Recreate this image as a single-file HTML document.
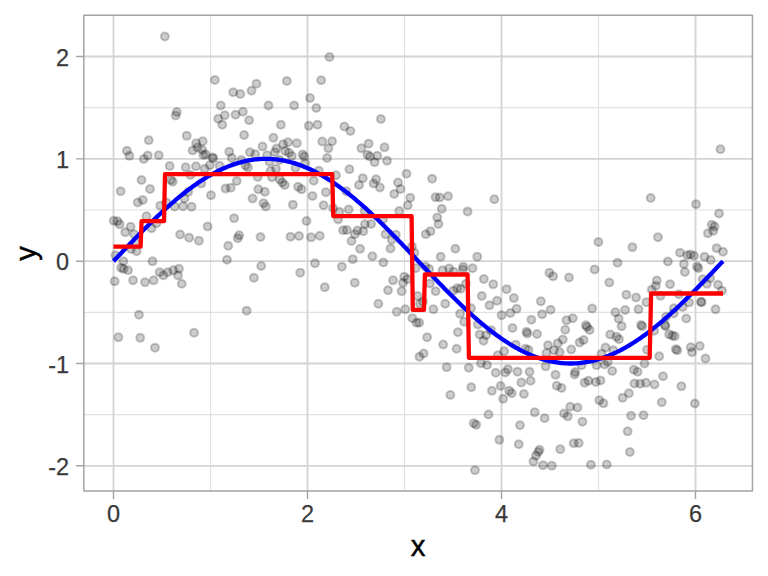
<!DOCTYPE html><html><head><meta charset="utf-8"><style>html,body{margin:0;padding:0;background:#fff;width:768px;height:576px;overflow:hidden}svg{display:block}text{font-family:"Liberation Sans",Arial,sans-serif}</style></head><body>
<svg width="768" height="576" viewBox="0 0 768 576">
<rect width="768" height="576" fill="#fff"/>
<path d="M210.50 15.3V491.1M404.50 15.3V491.1M598.50 15.3V491.1M83.85 414.67H752.45M83.85 312.34H752.45M83.85 210.01H752.45M83.85 107.68H752.45" stroke="#E1E1E1" stroke-width="1.15" fill="none"/>
<path d="M113.50 15.3V491.1M307.50 15.3V491.1M501.50 15.3V491.1M695.50 15.3V491.1M83.85 465.83H752.45M83.85 363.50H752.45M83.85 261.17H752.45M83.85 158.84H752.45M83.85 56.51H752.45" stroke="#D4D4D4" stroke-width="1.85" fill="none"/>
<g fill="rgba(0,0,0,0.2)" stroke="rgba(0,0,0,0.2)" stroke-width="2.0"><circle cx="164.83" cy="36.58" r="4.0"/><circle cx="329.50" cy="56.92" r="4.0"/><circle cx="214.83" cy="79.92" r="4.0"/><circle cx="233.17" cy="92.25" r="4.0"/><circle cx="240.33" cy="93.92" r="4.0"/><circle cx="251.50" cy="90.75" r="4.0"/><circle cx="256.50" cy="83.75" r="4.0"/><circle cx="286.83" cy="81.08" r="4.0"/><circle cx="321.17" cy="80.25" r="4.0"/><circle cx="310.00" cy="98.08" r="4.0"/><circle cx="176.81" cy="111.94" r="4.0"/><circle cx="175.69" cy="115.50" r="4.0"/><circle cx="148.75" cy="140.25" r="4.0"/><circle cx="126.88" cy="150.75" r="4.0"/><circle cx="129.38" cy="155.87" r="4.0"/><circle cx="147.75" cy="155.50" r="4.0"/><circle cx="143.75" cy="159.00" r="4.0"/><circle cx="158.75" cy="155.25" r="4.0"/><circle cx="169.69" cy="166.06" r="4.0"/><circle cx="220.75" cy="105.50" r="4.0"/><circle cx="224.75" cy="115.25" r="4.0"/><circle cx="218.25" cy="118.75" r="4.0"/><circle cx="222.25" cy="124.75" r="4.0"/><circle cx="235.50" cy="114.75" r="4.0"/><circle cx="242.88" cy="111.75" r="4.0"/><circle cx="249.12" cy="120.25" r="4.0"/><circle cx="244.12" cy="135.00" r="4.0"/><circle cx="186.75" cy="135.87" r="4.0"/><circle cx="229.25" cy="151.66" r="4.0"/><circle cx="231.77" cy="157.89" r="4.0"/><circle cx="249.97" cy="152.25" r="4.0"/><circle cx="255.28" cy="154.28" r="4.0"/><circle cx="262.50" cy="146.50" r="4.0"/><circle cx="185.69" cy="167.19" r="4.0"/><circle cx="195.91" cy="166.25" r="4.0"/><circle cx="202.75" cy="141.25" r="4.0"/><circle cx="196.19" cy="143.13" r="4.0"/><circle cx="197.44" cy="147.50" r="4.0"/><circle cx="192.62" cy="150.50" r="4.0"/><circle cx="202.12" cy="149.69" r="4.0"/><circle cx="203.38" cy="155.00" r="4.0"/><circle cx="205.56" cy="154.37" r="4.0"/><circle cx="212.40" cy="157.45" r="4.0"/><circle cx="213.30" cy="158.15" r="4.0"/><circle cx="209.84" cy="165.31" r="4.0"/><circle cx="204.69" cy="168.75" r="4.0"/><circle cx="219.53" cy="165.63" r="4.0"/><circle cx="268.50" cy="105.50" r="4.0"/><circle cx="294.12" cy="105.50" r="4.0"/><circle cx="316.25" cy="108.00" r="4.0"/><circle cx="280.88" cy="124.75" r="4.0"/><circle cx="308.75" cy="125.87" r="4.0"/><circle cx="317.50" cy="124.63" r="4.0"/><circle cx="344.38" cy="126.50" r="4.0"/><circle cx="350.38" cy="131.06" r="4.0"/><circle cx="322.25" cy="141.50" r="4.0"/><circle cx="332.12" cy="141.25" r="4.0"/><circle cx="328.38" cy="148.37" r="4.0"/><circle cx="327.12" cy="158.00" r="4.0"/><circle cx="349.41" cy="169.25" r="4.0"/><circle cx="273.38" cy="137.81" r="4.0"/><circle cx="288.06" cy="142.19" r="4.0"/><circle cx="283.06" cy="144.37" r="4.0"/><circle cx="296.81" cy="143.13" r="4.0"/><circle cx="276.50" cy="148.44" r="4.0"/><circle cx="274.88" cy="152.31" r="4.0"/><circle cx="285.25" cy="150.94" r="4.0"/><circle cx="289.00" cy="152.81" r="4.0"/><circle cx="291.81" cy="155.94" r="4.0"/><circle cx="302.60" cy="154.55" r="4.0"/><circle cx="304.30" cy="156.55" r="4.0"/><circle cx="267.06" cy="155.13" r="4.0"/><circle cx="269.56" cy="161.69" r="4.0"/><circle cx="279.62" cy="160.00" r="4.0"/><circle cx="305.25" cy="163.13" r="4.0"/><circle cx="295.44" cy="167.81" r="4.0"/><circle cx="276.03" cy="168.66" r="4.0"/><circle cx="270.56" cy="171.00" r="4.0"/><circle cx="380.88" cy="119.00" r="4.0"/><circle cx="368.62" cy="143.63" r="4.0"/><circle cx="361.38" cy="148.37" r="4.0"/><circle cx="384.50" cy="147.37" r="4.0"/><circle cx="367.38" cy="154.63" r="4.0"/><circle cx="369.88" cy="156.50" r="4.0"/><circle cx="377.38" cy="155.87" r="4.0"/><circle cx="374.62" cy="162.13" r="4.0"/><circle cx="387.00" cy="160.63" r="4.0"/><circle cx="494.31" cy="199.31" r="4.0"/><circle cx="467.56" cy="211.50" r="4.0"/><circle cx="448.06" cy="196.25" r="4.0"/><circle cx="720.44" cy="149.31" r="4.0"/><circle cx="650.69" cy="198.06" r="4.0"/><circle cx="696.03" cy="204.31" r="4.0"/><circle cx="719.03" cy="213.41" r="4.0"/><circle cx="141.50" cy="180.00" r="4.0"/><circle cx="150.00" cy="189.00" r="4.0"/><circle cx="120.62" cy="191.25" r="4.0"/><circle cx="142.75" cy="200.00" r="4.0"/><circle cx="137.75" cy="202.50" r="4.0"/><circle cx="170.88" cy="180.00" r="4.0"/><circle cx="172.69" cy="181.75" r="4.0"/><circle cx="160.25" cy="205.63" r="4.0"/><circle cx="166.25" cy="202.50" r="4.0"/><circle cx="174.69" cy="206.50" r="4.0"/><circle cx="146.50" cy="216.25" r="4.0"/><circle cx="113.75" cy="220.87" r="4.0"/><circle cx="117.50" cy="221.25" r="4.0"/><circle cx="119.62" cy="224.37" r="4.0"/><circle cx="130.62" cy="226.87" r="4.0"/><circle cx="125.25" cy="232.19" r="4.0"/><circle cx="134.00" cy="234.13" r="4.0"/><circle cx="151.50" cy="228.37" r="4.0"/><circle cx="156.50" cy="223.13" r="4.0"/><circle cx="190.50" cy="175.00" r="4.0"/><circle cx="201.19" cy="183.44" r="4.0"/><circle cx="236.77" cy="180.92" r="4.0"/><circle cx="225.56" cy="188.59" r="4.0"/><circle cx="230.72" cy="187.78" r="4.0"/><circle cx="257.62" cy="177.00" r="4.0"/><circle cx="258.25" cy="189.37" r="4.0"/><circle cx="264.88" cy="191.87" r="4.0"/><circle cx="252.62" cy="198.50" r="4.0"/><circle cx="263.50" cy="203.13" r="4.0"/><circle cx="265.75" cy="206.56" r="4.0"/><circle cx="211.00" cy="195.25" r="4.0"/><circle cx="188.25" cy="191.87" r="4.0"/><circle cx="184.50" cy="198.50" r="4.0"/><circle cx="183.00" cy="206.25" r="4.0"/><circle cx="191.62" cy="206.63" r="4.0"/><circle cx="234.12" cy="218.13" r="4.0"/><circle cx="207.62" cy="226.50" r="4.0"/><circle cx="180.12" cy="234.47" r="4.0"/><circle cx="239.12" cy="235.37" r="4.0"/><circle cx="237.75" cy="238.13" r="4.0"/><circle cx="260.52" cy="237.06" r="4.0"/><circle cx="241.38" cy="159.94" r="4.0"/><circle cx="245.44" cy="165.56" r="4.0"/><circle cx="247.94" cy="167.44" r="4.0"/><circle cx="271.94" cy="177.31" r="4.0"/><circle cx="318.75" cy="170.63" r="4.0"/><circle cx="279.75" cy="179.35" r="4.0"/><circle cx="284.75" cy="185.00" r="4.0"/><circle cx="298.12" cy="186.87" r="4.0"/><circle cx="301.50" cy="189.37" r="4.0"/><circle cx="313.75" cy="180.63" r="4.0"/><circle cx="336.00" cy="175.25" r="4.0"/><circle cx="325.88" cy="192.13" r="4.0"/><circle cx="312.50" cy="196.00" r="4.0"/><circle cx="292.88" cy="204.63" r="4.0"/><circle cx="323.56" cy="205.28" r="4.0"/><circle cx="306.50" cy="221.00" r="4.0"/><circle cx="290.50" cy="236.63" r="4.0"/><circle cx="299.06" cy="236.00" r="4.0"/><circle cx="311.12" cy="237.37" r="4.0"/><circle cx="319.75" cy="235.81" r="4.0"/><circle cx="346.25" cy="191.25" r="4.0"/><circle cx="333.12" cy="208.13" r="4.0"/><circle cx="339.38" cy="211.87" r="4.0"/><circle cx="338.12" cy="219.37" r="4.0"/><circle cx="348.69" cy="209.53" r="4.0"/><circle cx="364.62" cy="210.63" r="4.0"/><circle cx="364.91" cy="224.25" r="4.0"/><circle cx="343.12" cy="230.31" r="4.0"/><circle cx="346.88" cy="230.00" r="4.0"/><circle cx="357.44" cy="230.50" r="4.0"/><circle cx="363.25" cy="231.28" r="4.0"/><circle cx="362.75" cy="178.13" r="4.0"/><circle cx="359.00" cy="185.00" r="4.0"/><circle cx="376.12" cy="179.37" r="4.0"/><circle cx="373.62" cy="183.50" r="4.0"/><circle cx="379.88" cy="187.50" r="4.0"/><circle cx="398.00" cy="182.50" r="4.0"/><circle cx="400.50" cy="189.00" r="4.0"/><circle cx="394.25" cy="194.00" r="4.0"/><circle cx="406.50" cy="173.75" r="4.0"/><circle cx="432.12" cy="178.75" r="4.0"/><circle cx="410.25" cy="197.75" r="4.0"/><circle cx="407.75" cy="205.25" r="4.0"/><circle cx="435.50" cy="197.25" r="4.0"/><circle cx="439.69" cy="197.50" r="4.0"/><circle cx="441.75" cy="208.87" r="4.0"/><circle cx="437.25" cy="217.50" r="4.0"/><circle cx="438.41" cy="224.06" r="4.0"/><circle cx="399.25" cy="211.00" r="4.0"/><circle cx="383.00" cy="219.37" r="4.0"/><circle cx="371.12" cy="223.94" r="4.0"/><circle cx="385.50" cy="234.25" r="4.0"/><circle cx="395.81" cy="234.87" r="4.0"/><circle cx="425.81" cy="234.25" r="4.0"/><circle cx="430.50" cy="231.13" r="4.0"/><circle cx="136.62" cy="251.25" r="4.0"/><circle cx="115.38" cy="255.31" r="4.0"/><circle cx="152.44" cy="261.37" r="4.0"/><circle cx="114.62" cy="281.37" r="4.0"/><circle cx="133.00" cy="280.37" r="4.0"/><circle cx="145.00" cy="282.25" r="4.0"/><circle cx="153.62" cy="280.37" r="4.0"/><circle cx="159.62" cy="272.25" r="4.0"/><circle cx="163.38" cy="275.37" r="4.0"/><circle cx="167.75" cy="272.25" r="4.0"/><circle cx="173.31" cy="270.37" r="4.0"/><circle cx="178.94" cy="268.69" r="4.0"/><circle cx="178.00" cy="275.37" r="4.0"/><circle cx="123.31" cy="261.19" r="4.0"/><circle cx="121.12" cy="267.75" r="4.0"/><circle cx="123.62" cy="269.00" r="4.0"/><circle cx="128.00" cy="270.25" r="4.0"/><circle cx="131.12" cy="249.00" r="4.0"/><circle cx="135.50" cy="242.13" r="4.0"/><circle cx="189.12" cy="237.63" r="4.0"/><circle cx="198.88" cy="240.63" r="4.0"/><circle cx="228.25" cy="245.75" r="4.0"/><circle cx="227.00" cy="259.75" r="4.0"/><circle cx="261.19" cy="266.00" r="4.0"/><circle cx="253.88" cy="277.87" r="4.0"/><circle cx="181.75" cy="283.75" r="4.0"/><circle cx="351.50" cy="241.00" r="4.0"/><circle cx="352.75" cy="259.13" r="4.0"/><circle cx="300.25" cy="272.63" r="4.0"/><circle cx="315.00" cy="263.25" r="4.0"/><circle cx="341.88" cy="266.63" r="4.0"/><circle cx="324.75" cy="287.25" r="4.0"/><circle cx="354.81" cy="282.75" r="4.0"/><circle cx="354.88" cy="234.13" r="4.0"/><circle cx="391.75" cy="239.75" r="4.0"/><circle cx="390.50" cy="248.50" r="4.0"/><circle cx="360.12" cy="248.87" r="4.0"/><circle cx="372.38" cy="256.25" r="4.0"/><circle cx="383.38" cy="262.50" r="4.0"/><circle cx="440.67" cy="256.67" r="4.0"/><circle cx="415.75" cy="268.16" r="4.0"/><circle cx="442.59" cy="270.34" r="4.0"/><circle cx="393.00" cy="280.37" r="4.0"/><circle cx="404.25" cy="276.63" r="4.0"/><circle cx="403.00" cy="282.87" r="4.0"/><circle cx="407.38" cy="279.13" r="4.0"/><circle cx="388.00" cy="290.31" r="4.0"/><circle cx="401.62" cy="291.13" r="4.0"/><circle cx="429.88" cy="283.50" r="4.0"/><circle cx="435.59" cy="291.31" r="4.0"/><circle cx="411.94" cy="246.50" r="4.0"/><circle cx="414.44" cy="252.75" r="4.0"/><circle cx="425.38" cy="266.50" r="4.0"/><circle cx="429.12" cy="269.00" r="4.0"/><circle cx="455.38" cy="248.75" r="4.0"/><circle cx="477.25" cy="256.63" r="4.0"/><circle cx="449.12" cy="268.50" r="4.0"/><circle cx="453.50" cy="271.63" r="4.0"/><circle cx="463.25" cy="266.63" r="4.0"/><circle cx="462.88" cy="269.50" r="4.0"/><circle cx="472.50" cy="268.25" r="4.0"/><circle cx="483.81" cy="278.94" r="4.0"/><circle cx="493.25" cy="284.37" r="4.0"/><circle cx="506.62" cy="289.13" r="4.0"/><circle cx="466.00" cy="283.69" r="4.0"/><circle cx="460.69" cy="288.78" r="4.0"/><circle cx="457.25" cy="288.37" r="4.0"/><circle cx="453.19" cy="290.81" r="4.0"/><circle cx="445.20" cy="303.72" r="4.0"/><circle cx="481.78" cy="295.94" r="4.0"/><circle cx="598.38" cy="242.00" r="4.0"/><circle cx="617.56" cy="262.81" r="4.0"/><circle cx="549.38" cy="272.87" r="4.0"/><circle cx="553.12" cy="276.37" r="4.0"/><circle cx="569.00" cy="277.50" r="4.0"/><circle cx="594.62" cy="269.50" r="4.0"/><circle cx="609.31" cy="282.44" r="4.0"/><circle cx="658.00" cy="237.13" r="4.0"/><circle cx="632.38" cy="247.13" r="4.0"/><circle cx="667.88" cy="261.50" r="4.0"/><circle cx="680.00" cy="252.75" r="4.0"/><circle cx="687.31" cy="255.25" r="4.0"/><circle cx="690.44" cy="254.44" r="4.0"/><circle cx="694.06" cy="255.69" r="4.0"/><circle cx="683.88" cy="264.00" r="4.0"/><circle cx="684.88" cy="271.94" r="4.0"/><circle cx="697.00" cy="266.50" r="4.0"/><circle cx="698.38" cy="268.19" r="4.0"/><circle cx="704.50" cy="256.75" r="4.0"/><circle cx="711.75" cy="224.63" r="4.0"/><circle cx="714.50" cy="226.50" r="4.0"/><circle cx="713.25" cy="230.87" r="4.0"/><circle cx="707.88" cy="233.37" r="4.0"/><circle cx="716.62" cy="248.13" r="4.0"/><circle cx="723.00" cy="251.75" r="4.0"/><circle cx="710.75" cy="260.00" r="4.0"/><circle cx="139.00" cy="314.75" r="4.0"/><circle cx="118.38" cy="337.37" r="4.0"/><circle cx="140.25" cy="337.87" r="4.0"/><circle cx="155.00" cy="347.63" r="4.0"/><circle cx="246.62" cy="310.63" r="4.0"/><circle cx="194.12" cy="332.75" r="4.0"/><circle cx="378.38" cy="303.75" r="4.0"/><circle cx="396.75" cy="311.87" r="4.0"/><circle cx="405.25" cy="309.37" r="4.0"/><circle cx="417.62" cy="296.00" r="4.0"/><circle cx="419.88" cy="303.75" r="4.0"/><circle cx="423.00" cy="301.87" r="4.0"/><circle cx="433.38" cy="309.37" r="4.0"/><circle cx="412.38" cy="318.13" r="4.0"/><circle cx="416.50" cy="322.75" r="4.0"/><circle cx="419.25" cy="322.75" r="4.0"/><circle cx="427.12" cy="337.25" r="4.0"/><circle cx="443.16" cy="344.53" r="4.0"/><circle cx="423.62" cy="353.56" r="4.0"/><circle cx="419.44" cy="356.69" r="4.0"/><circle cx="497.00" cy="300.75" r="4.0"/><circle cx="489.50" cy="305.37" r="4.0"/><circle cx="513.88" cy="298.00" r="4.0"/><circle cx="516.62" cy="308.87" r="4.0"/><circle cx="510.38" cy="313.00" r="4.0"/><circle cx="501.62" cy="315.13" r="4.0"/><circle cx="531.38" cy="319.63" r="4.0"/><circle cx="512.50" cy="328.00" r="4.0"/><circle cx="471.00" cy="308.25" r="4.0"/><circle cx="460.12" cy="313.87" r="4.0"/><circle cx="464.12" cy="321.75" r="4.0"/><circle cx="477.88" cy="324.50" r="4.0"/><circle cx="491.00" cy="330.13" r="4.0"/><circle cx="479.75" cy="334.50" r="4.0"/><circle cx="486.00" cy="335.13" r="4.0"/><circle cx="483.50" cy="340.75" r="4.0"/><circle cx="457.88" cy="332.25" r="4.0"/><circle cx="456.62" cy="348.81" r="4.0"/><circle cx="504.12" cy="351.27" r="4.0"/><circle cx="497.88" cy="355.37" r="4.0"/><circle cx="537.03" cy="333.94" r="4.0"/><circle cx="515.69" cy="344.63" r="4.0"/><circle cx="525.38" cy="348.69" r="4.0"/><circle cx="528.44" cy="349.87" r="4.0"/><circle cx="540.88" cy="301.37" r="4.0"/><circle cx="550.62" cy="309.75" r="4.0"/><circle cx="542.12" cy="314.13" r="4.0"/><circle cx="592.12" cy="308.50" r="4.0"/><circle cx="615.38" cy="312.19" r="4.0"/><circle cx="618.62" cy="318.63" r="4.0"/><circle cx="566.50" cy="320.37" r="4.0"/><circle cx="572.75" cy="318.25" r="4.0"/><circle cx="565.25" cy="329.75" r="4.0"/><circle cx="585.88" cy="325.37" r="4.0"/><circle cx="587.12" cy="327.00" r="4.0"/><circle cx="589.62" cy="330.00" r="4.0"/><circle cx="562.75" cy="339.44" r="4.0"/><circle cx="557.75" cy="343.37" r="4.0"/><circle cx="548.00" cy="345.25" r="4.0"/><circle cx="583.56" cy="340.06" r="4.0"/><circle cx="579.62" cy="342.44" r="4.0"/><circle cx="571.25" cy="349.44" r="4.0"/><circle cx="610.25" cy="334.50" r="4.0"/><circle cx="616.50" cy="336.63" r="4.0"/><circle cx="619.00" cy="339.13" r="4.0"/><circle cx="605.50" cy="347.56" r="4.0"/><circle cx="656.75" cy="280.50" r="4.0"/><circle cx="655.75" cy="285.87" r="4.0"/><circle cx="651.75" cy="289.63" r="4.0"/><circle cx="670.12" cy="284.25" r="4.0"/><circle cx="702.62" cy="279.19" r="4.0"/><circle cx="706.88" cy="283.87" r="4.0"/><circle cx="626.38" cy="294.63" r="4.0"/><circle cx="636.12" cy="297.50" r="4.0"/><circle cx="646.38" cy="302.13" r="4.0"/><circle cx="660.50" cy="295.87" r="4.0"/><circle cx="678.88" cy="294.19" r="4.0"/><circle cx="689.00" cy="302.50" r="4.0"/><circle cx="682.62" cy="307.00" r="4.0"/><circle cx="673.88" cy="308.37" r="4.0"/><circle cx="701.00" cy="301.75" r="4.0"/><circle cx="701.60" cy="302.35" r="4.0"/><circle cx="625.12" cy="310.00" r="4.0"/><circle cx="638.50" cy="309.37" r="4.0"/><circle cx="621.62" cy="326.13" r="4.0"/><circle cx="686.25" cy="318.44" r="4.0"/><circle cx="641.00" cy="325.00" r="4.0"/><circle cx="642.25" cy="326.25" r="4.0"/><circle cx="654.12" cy="330.63" r="4.0"/><circle cx="665.06" cy="325.00" r="4.0"/><circle cx="665.38" cy="326.25" r="4.0"/><circle cx="666.00" cy="316.87" r="4.0"/><circle cx="673.69" cy="313.44" r="4.0"/><circle cx="669.12" cy="334.37" r="4.0"/><circle cx="672.25" cy="335.63" r="4.0"/><circle cx="674.75" cy="336.25" r="4.0"/><circle cx="710.12" cy="278.13" r="4.0"/><circle cx="718.00" cy="284.75" r="4.0"/><circle cx="722.00" cy="290.63" r="4.0"/><circle cx="715.50" cy="309.37" r="4.0"/><circle cx="446.62" cy="367.25" r="4.0"/><circle cx="468.75" cy="367.75" r="4.0"/><circle cx="481.00" cy="363.13" r="4.0"/><circle cx="487.00" cy="365.00" r="4.0"/><circle cx="495.75" cy="372.75" r="4.0"/><circle cx="507.88" cy="369.13" r="4.0"/><circle cx="505.38" cy="372.50" r="4.0"/><circle cx="517.50" cy="371.63" r="4.0"/><circle cx="529.56" cy="371.81" r="4.0"/><circle cx="530.62" cy="380.69" r="4.0"/><circle cx="521.38" cy="382.50" r="4.0"/><circle cx="471.25" cy="387.25" r="4.0"/><circle cx="500.62" cy="386.00" r="4.0"/><circle cx="491.88" cy="390.87" r="4.0"/><circle cx="509.12" cy="390.63" r="4.0"/><circle cx="511.62" cy="393.13" r="4.0"/><circle cx="523.88" cy="394.00" r="4.0"/><circle cx="450.38" cy="395.00" r="4.0"/><circle cx="503.12" cy="398.75" r="4.0"/><circle cx="488.50" cy="414.50" r="4.0"/><circle cx="554.00" cy="350.13" r="4.0"/><circle cx="559.62" cy="352.25" r="4.0"/><circle cx="546.50" cy="353.00" r="4.0"/><circle cx="601.50" cy="353.87" r="4.0"/><circle cx="613.31" cy="350.25" r="4.0"/><circle cx="545.62" cy="366.37" r="4.0"/><circle cx="581.50" cy="365.13" r="4.0"/><circle cx="596.50" cy="365.13" r="4.0"/><circle cx="604.62" cy="364.50" r="4.0"/><circle cx="607.75" cy="362.00" r="4.0"/><circle cx="555.50" cy="374.87" r="4.0"/><circle cx="575.25" cy="372.00" r="4.0"/><circle cx="574.62" cy="374.50" r="4.0"/><circle cx="612.25" cy="371.00" r="4.0"/><circle cx="584.62" cy="382.63" r="4.0"/><circle cx="588.38" cy="380.75" r="4.0"/><circle cx="595.88" cy="382.00" r="4.0"/><circle cx="600.50" cy="380.50" r="4.0"/><circle cx="556.75" cy="385.75" r="4.0"/><circle cx="561.50" cy="388.00" r="4.0"/><circle cx="599.31" cy="400.13" r="4.0"/><circle cx="603.38" cy="403.37" r="4.0"/><circle cx="570.25" cy="406.69" r="4.0"/><circle cx="577.50" cy="407.44" r="4.0"/><circle cx="647.00" cy="349.75" r="4.0"/><circle cx="659.25" cy="356.25" r="4.0"/><circle cx="675.75" cy="349.13" r="4.0"/><circle cx="677.25" cy="350.37" r="4.0"/><circle cx="690.75" cy="347.25" r="4.0"/><circle cx="692.00" cy="352.25" r="4.0"/><circle cx="699.75" cy="346.00" r="4.0"/><circle cx="705.50" cy="358.50" r="4.0"/><circle cx="644.50" cy="363.50" r="4.0"/><circle cx="633.88" cy="369.75" r="4.0"/><circle cx="637.62" cy="371.63" r="4.0"/><circle cx="663.00" cy="376.25" r="4.0"/><circle cx="634.50" cy="383.50" r="4.0"/><circle cx="640.12" cy="383.75" r="4.0"/><circle cx="646.00" cy="382.87" r="4.0"/><circle cx="654.50" cy="384.50" r="4.0"/><circle cx="681.38" cy="386.37" r="4.0"/><circle cx="628.88" cy="393.31" r="4.0"/><circle cx="622.62" cy="397.87" r="4.0"/><circle cx="473.75" cy="423.25" r="4.0"/><circle cx="476.25" cy="424.87" r="4.0"/><circle cx="534.69" cy="412.37" r="4.0"/><circle cx="544.62" cy="418.31" r="4.0"/><circle cx="520.00" cy="425.25" r="4.0"/><circle cx="499.38" cy="439.87" r="4.0"/><circle cx="518.75" cy="444.25" r="4.0"/><circle cx="539.50" cy="449.69" r="4.0"/><circle cx="538.25" cy="452.00" r="4.0"/><circle cx="535.94" cy="455.63" r="4.0"/><circle cx="533.44" cy="461.44" r="4.0"/><circle cx="543.06" cy="465.13" r="4.0"/><circle cx="551.81" cy="465.63" r="4.0"/><circle cx="475.00" cy="470.25" r="4.0"/><circle cx="564.00" cy="413.50" r="4.0"/><circle cx="567.75" cy="416.37" r="4.0"/><circle cx="582.38" cy="421.63" r="4.0"/><circle cx="573.75" cy="443.25" r="4.0"/><circle cx="578.75" cy="443.00" r="4.0"/><circle cx="560.25" cy="449.13" r="4.0"/><circle cx="590.88" cy="464.75" r="4.0"/><circle cx="606.75" cy="464.50" r="4.0"/><circle cx="661.75" cy="402.25" r="4.0"/><circle cx="694.88" cy="403.50" r="4.0"/><circle cx="631.12" cy="415.63" r="4.0"/><circle cx="643.50" cy="415.13" r="4.0"/><circle cx="627.62" cy="431.37" r="4.0"/><circle cx="629.88" cy="452.00" r="4.0"/><circle cx="526.50" cy="331.65" r="4.0"/><circle cx="527.40" cy="333.55" r="4.0"/><circle cx="282.25" cy="182.50" r="4.0"/></g>
<path d="M113.50 261.17L115.02 259.56L116.55 257.96L118.07 256.35L119.59 254.74L121.12 253.14L122.64 251.54L124.17 249.94L125.69 248.34L127.21 246.75L128.74 245.16L130.26 243.58L131.78 242.00L133.31 240.42L134.83 238.85L136.36 237.28L137.88 235.72L139.40 234.17L140.93 232.62L142.45 231.08L143.97 229.55L145.50 228.02L147.02 226.51L148.54 225.00L150.07 223.50L151.59 222.01L153.12 220.53L154.64 219.06L156.16 217.60L157.69 216.15L159.21 214.71L160.73 213.29L162.26 211.87L163.78 210.47L165.30 209.08L166.83 207.70L168.35 206.34L169.88 204.99L171.40 203.65L172.92 202.33L174.45 201.02L175.97 199.73L177.49 198.45L179.02 197.19L180.54 195.94L182.07 194.71L183.59 193.50L185.11 192.30L186.64 191.12L188.16 189.96L189.68 188.81L191.21 187.68L192.73 186.57L194.25 185.48L195.78 184.41L197.30 183.36L198.83 182.32L200.35 181.31L201.87 180.31L203.40 179.34L204.92 178.38L206.44 177.45L207.97 176.53L209.49 175.64L211.02 174.77L212.54 173.92L214.06 173.09L215.59 172.28L217.11 171.50L218.63 170.73L220.16 169.99L221.68 169.27L223.20 168.58L224.73 167.91L226.25 167.26L227.78 166.63L229.30 166.03L230.82 165.45L232.35 164.89L233.87 164.36L235.39 163.85L236.92 163.36L238.44 162.90L239.96 162.47L241.49 162.05L243.01 161.67L244.54 161.30L246.06 160.97L247.58 160.65L249.11 160.36L250.63 160.10L252.15 159.86L253.68 159.65L255.20 159.46L256.73 159.29L258.25 159.16L259.77 159.04L261.30 158.95L262.82 158.89L264.34 158.85L265.87 158.84L267.39 158.85L268.91 158.89L270.44 158.95L271.96 159.04L273.49 159.16L275.01 159.29L276.53 159.46L278.06 159.65L279.58 159.86L281.10 160.10L282.63 160.36L284.15 160.65L285.67 160.97L287.20 161.30L288.72 161.67L290.25 162.05L291.77 162.47L293.29 162.90L294.82 163.36L296.34 163.85L297.86 164.36L299.39 164.89L300.91 165.45L302.44 166.03L303.96 166.63L305.48 167.26L307.01 167.91L308.53 168.58L310.05 169.27L311.58 169.99L313.10 170.73L314.62 171.50L316.15 172.28L317.67 173.09L319.20 173.92L320.72 174.77L322.24 175.64L323.77 176.53L325.29 177.45L326.81 178.38L328.34 179.34L329.86 180.31L331.39 181.31L332.91 182.32L334.43 183.36L335.96 184.41L337.48 185.48L339.00 186.57L340.53 187.68L342.05 188.81L343.57 189.96L345.10 191.12L346.62 192.30L348.15 193.50L349.67 194.71L351.19 195.94L352.72 197.19L354.24 198.45L355.76 199.73L357.29 201.02L358.81 202.33L360.33 203.65L361.86 204.99L363.38 206.34L364.91 207.70L366.43 209.08L367.95 210.47L369.48 211.87L371.00 213.29L372.52 214.71L374.05 216.15L375.57 217.60L377.10 219.06L378.62 220.53L380.14 222.01L381.67 223.50L383.19 225.00L384.71 226.51L386.24 228.02L387.76 229.55L389.28 231.08L390.81 232.62L392.33 234.17L393.86 235.72L395.38 237.28L396.90 238.85L398.43 240.42L399.95 242.00L401.47 243.58L403.00 245.16L404.52 246.75L406.05 248.34L407.57 249.94L409.09 251.54L410.62 253.14L412.14 254.74L413.66 256.35L415.19 257.96L416.71 259.56L418.23 261.17L419.76 262.78L421.28 264.38L422.81 265.99L424.33 267.60L425.85 269.20L427.38 270.80L428.90 272.40L430.42 274.00L431.95 275.59L433.47 277.18L434.99 278.76L436.52 280.34L438.04 281.92L439.57 283.49L441.09 285.06L442.61 286.62L444.14 288.17L445.66 289.72L447.18 291.26L448.71 292.79L450.23 294.32L451.76 295.83L453.28 297.34L454.80 298.84L456.33 300.33L457.85 301.81L459.37 303.28L460.90 304.74L462.42 306.19L463.94 307.63L465.47 309.05L466.99 310.47L468.52 311.87L470.04 313.26L471.56 314.64L473.09 316.00L474.61 317.35L476.13 318.69L477.66 320.01L479.18 321.32L480.71 322.61L482.23 323.89L483.75 325.15L485.28 326.40L486.80 327.63L488.32 328.84L489.85 330.04L491.37 331.22L492.89 332.38L494.42 333.53L495.94 334.66L497.47 335.77L498.99 336.86L500.51 337.93L502.04 338.98L503.56 340.02L505.08 341.03L506.61 342.03L508.13 343.00L509.65 343.96L511.18 344.89L512.70 345.81L514.23 346.70L515.75 347.57L517.27 348.42L518.80 349.25L520.32 350.06L521.84 350.84L523.37 351.61L524.89 352.35L526.42 353.07L527.94 353.76L529.46 354.43L530.99 355.08L532.51 355.71L534.03 356.31L535.56 356.89L537.08 357.45L538.60 357.98L540.13 358.49L541.65 358.98L543.18 359.44L544.70 359.87L546.22 360.29L547.75 360.67L549.27 361.04L550.79 361.37L552.32 361.69L553.84 361.98L555.37 362.24L556.89 362.48L558.41 362.69L559.94 362.88L561.46 363.05L562.98 363.18L564.51 363.30L566.03 363.39L567.55 363.45L569.08 363.49L570.60 363.50L572.13 363.49L573.65 363.45L575.17 363.39L576.70 363.30L578.22 363.18L579.74 363.05L581.27 362.88L582.79 362.69L584.31 362.48L585.84 362.24L587.36 361.98L588.89 361.69L590.41 361.37L591.93 361.04L593.46 360.67L594.98 360.29L596.50 359.87L598.03 359.44L599.55 358.98L601.08 358.49L602.60 357.98L604.12 357.45L605.65 356.89L607.17 356.31L608.69 355.71L610.22 355.08L611.74 354.43L613.26 353.76L614.79 353.07L616.31 352.35L617.84 351.61L619.36 350.84L620.88 350.06L622.41 349.25L623.93 348.42L625.45 347.57L626.98 346.70L628.50 345.81L630.02 344.89L631.55 343.96L633.07 343.00L634.60 342.03L636.12 341.03L637.64 340.02L639.17 338.98L640.69 337.93L642.21 336.86L643.74 335.77L645.26 334.66L646.79 333.53L648.31 332.38L649.83 331.22L651.36 330.04L652.88 328.84L654.40 327.63L655.93 326.40L657.45 325.15L658.97 323.89L660.50 322.61L662.02 321.32L663.55 320.01L665.07 318.69L666.59 317.35L668.12 316.00L669.64 314.64L671.16 313.26L672.69 311.87L674.21 310.47L675.74 309.05L677.26 307.63L678.78 306.19L680.31 304.74L681.83 303.28L683.35 301.81L684.88 300.33L686.40 298.84L687.92 297.34L689.45 295.83L690.97 294.32L692.50 292.79L694.02 291.26L695.54 289.72L697.07 288.17L698.59 286.62L700.11 285.06L701.64 283.49L703.16 281.92L704.68 280.34L706.21 278.76L707.73 277.18L709.26 275.59L710.78 274.00L712.30 272.40L713.83 270.80L715.35 269.20L716.87 267.60L718.40 265.99L719.92 264.38L721.45 262.78L722.97 261.17" stroke="#0000FF" stroke-width="4.3" fill="none" stroke-linejoin="round"/>
<path d="M113.4 246.6H140.6L141.6 221.2H164.0L165.0 174.1H332.2L333.3 216.2H411.6L412.8 309.9H423.95L424.9 274.5H467.6L468.9 357.8H649.7L651.1 293.5H723.0" stroke="#FF0000" stroke-width="4.3" fill="none" stroke-linejoin="round"/>
<rect x="83.85" y="15.3" width="668.60" height="475.80" fill="none" stroke="#A3A3A3" stroke-width="1.5" stroke-linejoin="round"/>
<path d="M113.50 491.1V499.1M307.50 491.1V499.1M501.50 491.1V499.1M695.50 491.1V499.1M83.85 465.83H76.0M83.85 363.50H76.0M83.85 261.17H76.0M83.85 158.84H76.0M83.85 56.51H76.0" stroke="#A3A3A3" stroke-width="1.42" fill="none"/>
<text x="113.50" y="522" font-size="23.5" fill="#3A3A3A" stroke="#3A3A3A" stroke-width="0.25" text-anchor="middle">0</text>
<text x="307.50" y="522" font-size="23.5" fill="#3A3A3A" stroke="#3A3A3A" stroke-width="0.25" text-anchor="middle">2</text>
<text x="501.50" y="522" font-size="23.5" fill="#3A3A3A" stroke="#3A3A3A" stroke-width="0.25" text-anchor="middle">4</text>
<text x="695.50" y="522" font-size="23.5" fill="#3A3A3A" stroke="#3A3A3A" stroke-width="0.25" text-anchor="middle">6</text>
<text x="69.2" y="475.03" font-size="23.5" fill="#3A3A3A" stroke="#3A3A3A" stroke-width="0.25" text-anchor="end">-2</text>
<text x="69.2" y="372.70" font-size="23.5" fill="#3A3A3A" stroke="#3A3A3A" stroke-width="0.25" text-anchor="end">-1</text>
<text x="69.2" y="270.37" font-size="23.5" fill="#3A3A3A" stroke="#3A3A3A" stroke-width="0.25" text-anchor="end">0</text>
<text x="69.2" y="168.04" font-size="23.5" fill="#3A3A3A" stroke="#3A3A3A" stroke-width="0.25" text-anchor="end">1</text>
<text x="69.2" y="65.71" font-size="23.5" fill="#3A3A3A" stroke="#3A3A3A" stroke-width="0.25" text-anchor="end">2</text>
<text x="418" y="556" font-size="29.3" fill="#000" stroke="#000" stroke-width="0.45" text-anchor="middle">x</text>
<text transform="translate(35.6 253.3) rotate(-90)" x="0" y="0" font-size="29.3" fill="#000" stroke="#000" stroke-width="0.45" text-anchor="middle">y</text>
</svg></body></html>
